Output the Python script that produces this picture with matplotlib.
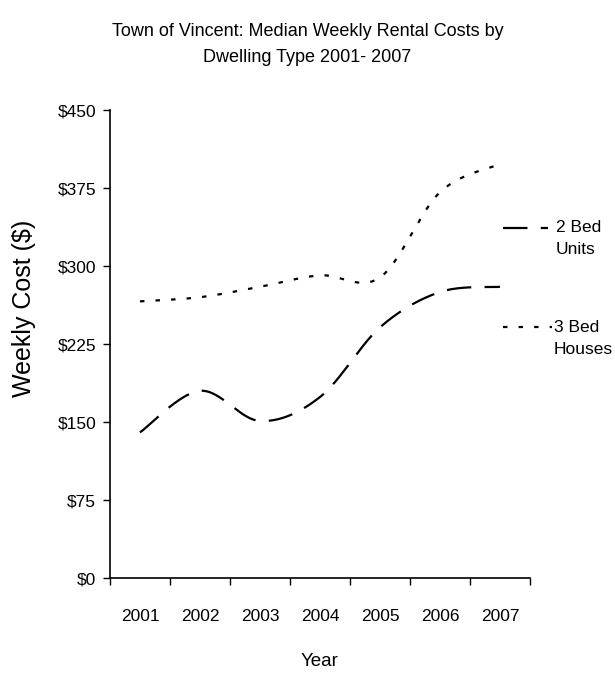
import numpy as np
import matplotlib
matplotlib.use("Agg")
import matplotlib.pyplot as plt

years = ["2001", "2002", "2003", "2004", "2005", "2006", "2007"]
units_2bed = [140, 180, 151, 174, 241, 275, 280]
houses_3bed = [266, 270, 280, 291, 289, 371, 398]
y_ticks = [0, 75, 150, 225, 300, 375, 450]
y_tick_labels = ["$0", "$75", "$150", "$225", "$300", "$375", "$450"]

FONT = ["Liberation Sans", "DejaVu Sans"]


def smooth(xs, ys, n=40):
    xs = np.asarray(xs, float)
    ys = np.asarray(ys, float)
    px = np.concatenate([[xs[0]], xs, [xs[-1]]])
    py = np.concatenate([[ys[0]], ys, [ys[-1]]])
    ox, oy = [], []
    t = np.linspace(0, 1, n)
    for i in range(1, len(px) - 2):
        p0 = np.array([px[i], py[i]])
        p3 = np.array([px[i + 1], py[i + 1]])
        p1 = p0 + (np.array([px[i + 1], py[i + 1]]) - np.array([px[i - 1], py[i - 1]])) / 6
        p2 = p3 - (np.array([px[i + 2], py[i + 2]]) - np.array([px[i], py[i]])) / 6
        b = ((1 - t) ** 3)[:, None] * p0 + (3 * (1 - t) ** 2 * t)[:, None] * p1 \
            + (3 * (1 - t) * t ** 2)[:, None] * p2 + (t ** 3)[:, None] * p3
        ox.extend(b[:, 0])
        oy.extend(b[:, 1])
    return np.array(ox), np.array(oy)


fig = plt.figure(figsize=(6.15, 6.73), dpi=100)
ax = fig.add_axes([110 / 615, 1 - 578 / 673, 420 / 615, 468 / 673])

x = np.arange(1, len(years) + 1)
sx, sy = smooth(x, units_2bed)
ax.plot(sx, sy, color="black", lw=1.6, dashes=(11, 6), label="2 Bed\nUnits")
sx, sy = smooth(x, houses_3bed)
ax.plot(sx, sy, color="black", lw=1.6, dashes=(2, 5), label="3 Bed\nHouses")

ax.set_xlim(0.5, len(years) + 0.5)
ax.set_ylim(0, 450)
ax.set_yticks(y_ticks)
ax.set_yticklabels(y_tick_labels, family=FONT, fontsize=12.5)
ax.set_xticks(np.arange(0.5, len(years) + 1, 1))
ax.set_xticklabels([])
ax.set_xticks(x, minor=True)
ax.set_xticklabels(years, minor=True, family=FONT, fontsize=12.5)
ax.tick_params(axis="x", which="minor", length=0, pad=22)
ax.tick_params(axis="x", which="major", direction="out", length=5, width=1)
ax.tick_params(axis="y", direction="out", length=5, width=1, pad=5)
for s in ["top", "right"]:
    ax.spines[s].set_visible(False)
for s in ["left", "bottom"]:
    ax.spines[s].set_linewidth(1.2)

fig.text(0.5, 1 - 32 / 673, "Town of Vincent: Median Weekly Rental Costs by",
         ha="center", va="center", family=FONT, fontsize=13)
fig.text(0.5, 1 - 57 / 673, "Dwelling Type 2001- 2007",
         ha="center", va="center", family=FONT, fontsize=13)
fig.text(24 / 615, 1 - 308 / 673, "Weekly Cost ($)", rotation=90,
         ha="center", va="center", family=FONT, fontsize=18)
fig.text(320 / 615, 1 - 662 / 673, "Year", ha="center", va="center",
         family=FONT, fontsize=13.5)

# legend
fig.lines.append(plt.Line2D([503 / 615, 548 / 615], [1 - 228 / 673] * 2,
                            transform=fig.transFigure, color="black", lw=1.6, dashes=(11, 6)))
fig.lines.append(plt.Line2D([503 / 615, 552 / 615], [1 - 327 / 673] * 2,
                            transform=fig.transFigure, color="black", lw=1.6, dashes=(2, 5)))
fig.text(556 / 615, 1 - 228 / 673, "2 Bed", ha="left", va="center", family=FONT, fontsize=12.5)
fig.text(556 / 615, 1 - 250 / 673, "Units", ha="left", va="center", family=FONT, fontsize=12.5)
fig.text(554 / 615, 1 - 327 / 673, "3 Bed", ha="left", va="center", family=FONT, fontsize=12.5)
fig.text(554 / 615, 1 - 349 / 673, "Houses", ha="left", va="center", family=FONT, fontsize=12.5)

fig.savefig("out.png", dpi=100)
